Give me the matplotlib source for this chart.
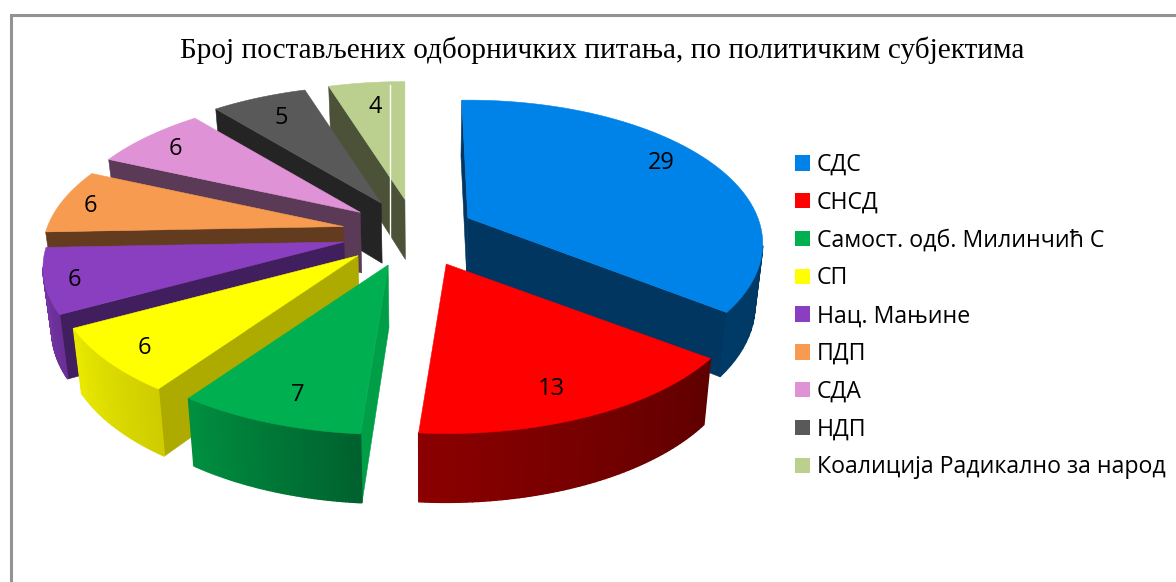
import numpy as np
import matplotlib
matplotlib.use('Agg')
import matplotlib.pyplot as plt
from matplotlib.colors import to_rgb
from matplotlib.patches import Patch, Polygon

title = 'Број постављених одборничких питања, по политичким субјектима'
parties = ['СДС', 'СНСД', 'Самост. одб. Милинчић С', 'СП', 'Нац. Мањине', 'ПДП', 'СДА', 'НДП',
           'Коалиција Радикално за народ']
questions = [29, 13, 7, 6, 6, 6, 6, 5, 4]

top_colors = ['#0083E9', '#FF0000', '#00B050', '#FFFF00', '#8A3FC0', '#F79B50', '#DF92D5', '#595959', '#BBD08E']
cut_colors = ['#003660', '#600000', '#009E47', '#ADAA00', '#411F5F', '#633C20', '#5A3A57', '#242424', '#4B5238']
wall_start = ['#003660', '#5F0000', '#00612E', '#CFCC00', '#6A2F96', '#633C20', '#5A3A57', '#242424', '#4B5238']
wall_end = ['#003A66', '#8B0000', '#008F40', '#E9E900', '#7A38AA', '#633C20', '#5A3A57', '#242424', '#4B5238']
label_r = [0.85, 0.79, 0.80, 0.85, 0.90, 0.90, 0.87, 0.83, 0.82]
label_shift = [-6.3, 2.2, -1.4, 0, 0, 0, 0, 0.5, 0.4]
nudge = [1, 6, -4, -4, -1, 0, 2, -1, 0]
rim_scale = [0.98, 1, 1, 1, 1, 1, 1, 1, 1]


# ground plane -> picture, front of the pie is nearer so it comes out larger
def rim(theta):
    t = np.radians(theta)
    s = 1 / (1 + 0.18 * np.cos(t))
    return 296 * np.sin(t) * s, -139 * np.cos(t) * s


def apex(mid):
    m = np.radians(mid)
    return 407 + 65 * np.sin(m) + 8 * np.cos(m) ** 2, 233 - 34 * np.cos(m)


def drop(x, y):
    return x - (x - 425) * 0.023, y + 60 + (y - 200) * 0.038


def side(a, b, color, z, width=0.4):
    # faces on the far side are hidden behind the top
    if b[0] - a[0] < 0:
        pts = [a, b, drop(*b), drop(*a)]
        ax.add_patch(Polygon(pts, facecolor=color, edgecolor=color, lw=width, zorder=z))


fig = plt.figure(figsize=(11.76, 5.82), dpi=100)
ax = fig.add_axes([0, 0, 1, 1])
ax.set_xlim(0, 1176)
ax.set_ylim(582, 0)
ax.axis('off')

ax.plot([10.5, 10.5, 1176], [582, 15, 15], color='#939393', lw=2.2, solid_joinstyle='miter')

edges = np.cumsum([0] + questions) * 360 / sum(questions)
mids = (edges[:-1] + edges[1:]) / 2

for z, i in enumerate([8, 7, 6, 5, 4, 0, 3, 2, 1]):
    cx, cy = apex(mids[i])
    cx += nudge[i]
    first = edges[i] - 1.4 if i == 0 else edges[i]
    thetas = np.linspace(first, edges[i + 1], 60)
    rx, ry = rim(thetas)
    outer = np.column_stack([cx + rx * rim_scale[i], cy + ry])
    c0, c1 = np.array(to_rgb(wall_start[i])), np.array(to_rgb(wall_end[i]))

    side((cx, cy), tuple(outer[0]), cut_colors[i], z * 10 + 1)
    side(tuple(outer[-1]), (cx, cy), cut_colors[i], z * 10 + 1)
    for k in range(len(outer) - 1):
        f = k / (len(outer) - 2)
        side(tuple(outer[k]), tuple(outer[k + 1]), tuple(c0 + (c1 - c0) * f), z * 10 + 2, width=1.0)
    ax.add_patch(Polygon(np.vstack([[cx, cy], outer]), facecolor=top_colors[i], edgecolor=top_colors[i],
                         lw=0.4, zorder=z * 10 + 3))

    lx, ly = rim(mids[i] + label_shift[i])
    ax.text(cx + lx * label_r[i], cy + ly * label_r[i] + 3, str(questions[i]), fontsize=17, family='Open Sans',
            color='black', ha='center', va='center', zorder=200)

# thin white seam through the last slice
ax.plot([390, 390], [85, 240], color='white', lw=1, zorder=15)

ax.text(602, 50, title, fontsize=21.05, family='Liberation Serif', ha='center', va='center', color='black')

handles = [Patch(facecolor=c, edgecolor='none') for c in top_colors]
ax.legend(handles, parties, loc='upper left', bbox_to_anchor=(795, 153), bbox_transform=ax.transData,
          frameon=False, borderpad=0, borderaxespad=0, handlelength=0.647, handleheight=0.647, handletextpad=0.3,
          labelspacing=0.595, prop={'family': 'Open Sans', 'size': 16.7})

fig.savefig('out.png', dpi=100)
